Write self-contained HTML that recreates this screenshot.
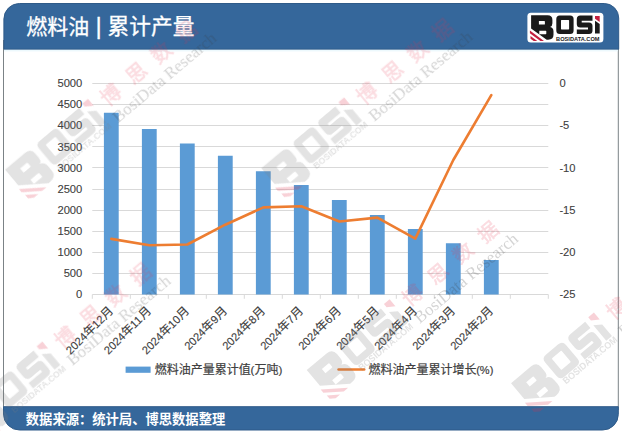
<!DOCTYPE html>
<html lang="zh-CN"><head><meta charset="utf-8"><title>燃料油 | 累计产量</title>
<style>html,body{margin:0;padding:0;background:#fff;}body{width:622px;height:435px;position:relative;overflow:hidden;font-family:"Liberation Sans","Noto Sans CJK SC",sans-serif;}</style>
</head><body>
<svg width="622" height="435" viewBox="0 0 622 435" style="position:absolute;left:0;top:0;display:block" font-family="'Liberation Sans', 'Noto Sans CJK SC', sans-serif">
<defs><g id="lk"><path fill-rule="evenodd" d="M0 0H16.5Q21.3 0 21.3 4.6V8Q21.3 11 19 11.6Q22.4 12.3 22.4 16V19.5Q22.4 24.4 17 24.4H15.6L0 13.1ZM7.8 5.7V9.2H13.2Q13.8 9.2 13.8 8.6V6.3Q13.8 5.7 13.2 5.7ZM8.2 15.4V18.9H14.6Q15.2 18.9 15.2 18.3V16Q15.2 15.4 14.6 15.4Z"/><path fill-rule="evenodd" d="M28.7 .3H39Q42.5 .3 42.5 3.8V15.1Q42.5 18.6 39 18.6H28.7Q25.2 18.6 25.2 15.1V3.8Q25.2 .3 28.7 .3ZM30.5 4.6Q29.9 4.6 29.9 5.2V13.5Q29.9 14.1 30.5 14.1H37.4Q38 14.1 38 13.5V5.2Q38 4.6 37.4 4.6Z"/><path d="M49.2 .3H61.4V5.5H50.6V7.3H57.9Q61.4 7.3 61.4 10.8V15.1Q61.4 18.6 57.9 18.6H45.7V14.1H56.9V12.3H49.2Q45.7 12.3 45.7 8.8V3.8Q45.7 .3 49.2 .3Z"/><path d="M63.9 5.4L68.6 8.6V18.2H63.9Z"/></g>
<text id="lt" x="25" y="25.3" font-size="6" font-weight="bold" textLength="43.4" lengthAdjust="spacingAndGlyphs">BOSIDATA.COM</text>
<path id="lr" d="M-1.2 15.2V17.9L9.3 25.6H12.9ZM-.6 20.6V23.4L2.6 25.6H6.2Z"/><path id="ld" d="M63.9 .8H68.6V6.6L63.9 3.4Z"/>
<g id="wm"><g transform="scale(1.57) translate(-66.25 -3.7)"><g transform="translate(-1.3 2.2)"><use href="#lk" fill="#7f7f7f"/><use href="#lr" fill="#e0304a"/></g><use href="#lt" fill="#7f7f7f"/><use href="#ld" x="-.5" y=".8" fill="#e0304a"/></g><text opacity=".78" fill="#e8334f" stroke="#e8334f" stroke-width=".6" font-family="'Liberation Sans', 'Noto Sans CJK SC', sans-serif" font-size="20" x="13 46.5 79 111.5" y="15.5">博思数据</text><text x="10.2" y="35" font-family="'Liberation Serif', serif" font-size="17" fill="#3c3c3c">BosiData Research</text></g>
</defs>
<rect width="622" height="435" fill="#fff"/>
<!-- chart -->
<path d="M92.3 294.5H548.3M92.3 273.5H548.3M92.3 252.5H548.3M92.3 231.5H548.3M92.3 210.5H548.3M92.3 189.5H548.3M92.3 167.5H548.3M92.3 146.5H548.3M92.3 125.5H548.3M92.3 104.5H548.3M92.3 83.5H548.3M92.3 294.5v4.3M130.3 294.5v4.3M168.3 294.5v4.3M206.3 294.5v4.3M244.3 294.5v4.3M282.3 294.5v4.3M320.3 294.5v4.3M358.3 294.5v4.3M396.3 294.5v4.3M434.3 294.5v4.3M472.3 294.5v4.3M510.3 294.5v4.3M548.3 294.5v4.3" stroke="#d9d9d9" stroke-width="1" fill="none"/>
<path d="M103.9 294.5V112.8h14.8V294.5ZM141.9 294.5V129h14.8V294.5ZM179.9 294.5V143.4h14.8V294.5ZM217.9 294.5V155.8h14.8V294.5ZM255.9 294.5V171.3h14.8V294.5ZM293.9 294.5V184.9h14.8V294.5ZM331.9 294.5V199.9h14.8V294.5ZM369.9 294.5V215h14.8V294.5ZM407.9 294.5V229.1h14.8V294.5ZM445.9 294.5V243.2h14.8V294.5ZM483.9 294.5V260h14.8V294.5Z" fill="#5b9bd5"/>
<polyline points="111.3,238.9 149.3,245.3 187.3,244.5 225.3,224.7 263.3,207.4 301.3,206.2 339.3,221.5 377.3,217.6 415.3,238.6 453.3,160 491.3,95.2" fill="none" stroke="#ed7d31" stroke-width="2.6" stroke-linejoin="round" stroke-linecap="round"/>
<g font-size="11.2" fill="#404040" stroke="#404040" stroke-width=".1">
<text x="82.3" y="298.25" text-anchor="end">0</text>
<text x="82.3" y="277.15" text-anchor="end">500</text>
<text x="82.3" y="256.05" text-anchor="end">1000</text>
<text x="82.3" y="234.95" text-anchor="end">1500</text>
<text x="82.3" y="213.85" text-anchor="end">2000</text>
<text x="82.3" y="192.75" text-anchor="end">2500</text>
<text x="82.3" y="171.65" text-anchor="end">3000</text>
<text x="82.3" y="150.55" text-anchor="end">3500</text>
<text x="82.3" y="129.45" text-anchor="end">4000</text>
<text x="82.3" y="108.35" text-anchor="end">4500</text>
<text x="82.3" y="87.25" text-anchor="end">5000</text>
<text x="559.4" y="87.25">0</text>
<text x="559.4" y="129.45">-5</text>
<text x="559.4" y="171.65">-10</text>
<text x="559.4" y="213.85">-15</text>
<text x="559.4" y="256.05">-20</text>
<text x="559.4" y="298.25">-25</text>
</g>
<g fill="#404040" font-size="11.2" stroke="#404040" stroke-width=".12" font-family="'Liberation Sans', 'Noto Sans CJK SC', sans-serif">
<g transform="translate(113.9 311.6) rotate(-45)" aria-label="2024年12月"><text x="-61.36" y="0">2024</text><text x="-36.45" y="0" font-size="12">年</text><text x="-24.45" y="0">12</text><text x="-12" y="0" font-size="12">月</text></g>
<g transform="translate(151.9 311.6) rotate(-45)" aria-label="2024年11月"><text x="-61.36" y="0">2024</text><text x="-36.45" y="0" font-size="12">年</text><text x="-24.45" y="0">11</text><text x="-12" y="0" font-size="12">月</text></g>
<g transform="translate(189.9 311.6) rotate(-45)" aria-label="2024年10月"><text x="-61.36" y="0">2024</text><text x="-36.45" y="0" font-size="12">年</text><text x="-24.45" y="0">10</text><text x="-12" y="0" font-size="12">月</text></g>
<g transform="translate(227.9 311.6) rotate(-45)" aria-label="2024年9月"><text x="-55.14" y="0">2024</text><text x="-30.23" y="0" font-size="12">年</text><text x="-18.23" y="0">9</text><text x="-12" y="0" font-size="12">月</text></g>
<g transform="translate(265.9 311.6) rotate(-45)" aria-label="2024年8月"><text x="-55.14" y="0">2024</text><text x="-30.23" y="0" font-size="12">年</text><text x="-18.23" y="0">8</text><text x="-12" y="0" font-size="12">月</text></g>
<g transform="translate(303.9 311.6) rotate(-45)" aria-label="2024年7月"><text x="-55.14" y="0">2024</text><text x="-30.23" y="0" font-size="12">年</text><text x="-18.23" y="0">7</text><text x="-12" y="0" font-size="12">月</text></g>
<g transform="translate(341.9 311.6) rotate(-45)" aria-label="2024年6月"><text x="-55.14" y="0">2024</text><text x="-30.23" y="0" font-size="12">年</text><text x="-18.23" y="0">6</text><text x="-12" y="0" font-size="12">月</text></g>
<g transform="translate(379.9 311.6) rotate(-45)" aria-label="2024年5月"><text x="-55.14" y="0">2024</text><text x="-30.23" y="0" font-size="12">年</text><text x="-18.23" y="0">5</text><text x="-12" y="0" font-size="12">月</text></g>
<g transform="translate(417.9 311.6) rotate(-45)" aria-label="2024年4月"><text x="-55.14" y="0">2024</text><text x="-30.23" y="0" font-size="12">年</text><text x="-18.23" y="0">4</text><text x="-12" y="0" font-size="12">月</text></g>
<g transform="translate(455.9 311.6) rotate(-45)" aria-label="2024年3月"><text x="-55.14" y="0">2024</text><text x="-30.23" y="0" font-size="12">年</text><text x="-18.23" y="0">3</text><text x="-12" y="0" font-size="12">月</text></g>
<g transform="translate(493.9 311.6) rotate(-45)" aria-label="2024年2月"><text x="-55.14" y="0">2024</text><text x="-30.23" y="0" font-size="12">年</text><text x="-18.23" y="0">2</text><text x="-12" y="0" font-size="12">月</text></g>
</g>
<rect x="125.6" y="366.6" width="25" height="6.2" fill="#5b9bd5"/>
<g fill="#404040" font-size="11.6" stroke="#404040" stroke-width=".2" font-family="'Liberation Sans', 'Noto Sans CJK SC', sans-serif">
<text x="154.7" y="373.6" font-size="12">燃料油产量累计值</text><text x="250.5" y="373.6">(</text>
<text x="254.6" y="373.6" font-size="12">万吨</text><text x="278.4" y="373.6">)</text>
<path d="M338.6 369.5H364.2" stroke="#ed7d31" stroke-width="2.6" stroke-linecap="round" fill="none"/>
<text x="368.4" y="373.6" font-size="12">燃料油产量累计增长</text><text x="476.2" y="373.6" font-size="11">(%)</text>
</g>
<!-- frame -->
<path d="M3.5 40V410M618.3 40V410" fill="none" stroke="#7b8286" stroke-width="1"/>
<path d="M3.9 49.2V19A15.5 15.5 0 0 1 19.4 3.5H604.2A14.5 14.5 0 0 1 618.7 18V49.2Z" fill="#35679b" stroke="#2f5b89" stroke-width="1"/>
<rect x="4" y="49.8" width="614" height="1.6" fill="#e9f7fd" opacity=".8"/>
<path d="M3.5 406.7H618.3V414.4A15.6 15.6 0 0 1 602.7 430H19.5A16 16 0 0 1 3.5 414Z" fill="#35679b" stroke="#2f5b89" stroke-width="1"/>
<g fill="#fff" stroke="#fff" stroke-width=".3" aria-label="燃料油 | 累计产量" font-family="'Liberation Sans', 'Noto Sans CJK SC', sans-serif"><text x="26.2" y="34" font-size="21">燃料油</text><text x="98.55" y="34" font-size="24" text-anchor="middle">|</text><text x="107.6" y="34" font-size="21.7">累计产量</text></g>
<text fill="#fff" aria-label="数据来源：统计局、博思数据整理" x="25.8" y="424" font-size="13.3" font-weight="bold" font-family="'Liberation Sans', 'Noto Sans CJK SC', sans-serif">数据来源：统计局、博思数据整理</text>
<rect x="527.4" y="12.7" width="76" height="29.8" rx="3.5" fill="#fff"/>
<g transform="translate(531.1 15.3)"><g fill="#1a1a1a"><use href="#lk"/><use href="#lt"/></g><g fill="#c4203f"><use href="#lr"/><use href="#ld"/></g></g>
<!-- watermarks (multiplied overlay) -->
<g opacity=".22">
<use href="#wm" transform="translate(87.8 103.2) rotate(-40)"/>
<use href="#wm" transform="translate(344 101.8) rotate(-40)"/>
<use href="#wm" transform="translate(42.2 345.9) rotate(-40)"/>
<use href="#wm" transform="translate(389.5 303.7) rotate(-40)"/>
<use href="#wm" transform="translate(593.8 316.9) rotate(-40)"/>
</g>
</svg>
</body></html>
